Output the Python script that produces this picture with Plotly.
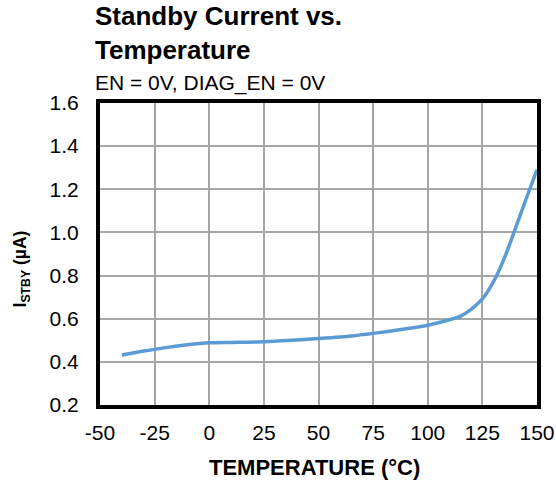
import plotly.graph_objects as go

# Standby current vs. junction temperature
temperature_c = [-40, -30, -20, -10, 0, 10, 25, 40, 50, 65, 75, 90, 100, 110, 115, 120, 125, 128, 132, 136, 140, 145, 150]
standby_ua = [0.432, 0.45, 0.466, 0.479, 0.488, 0.49, 0.493, 0.501, 0.508, 0.52, 0.532, 0.553, 0.57, 0.595, 0.612,
              0.645, 0.692, 0.735, 0.81, 0.905, 1.015, 1.155, 1.29]

x_ticks = [-50, -25, 0, 25, 50, 75, 100, 125, 150]
y_ticks = [0.2, 0.4, 0.6, 0.8, 1.0, 1.2, 1.4, 1.6]

FONT = "Arial, Liberation Sans, sans-serif"

fig = go.Figure(
    go.Scatter(
        x=temperature_c,
        y=standby_ua,
        mode="lines",
        line=dict(color="#5B9BD5", width=3.5, shape="spline", smoothing=0.7),
        showlegend=False,
    )
)

fig.update_layout(
    width=556,
    height=487,
    margin=dict(l=100, r=19, t=103, b=82),
    paper_bgcolor="white",
    plot_bgcolor="white",
    font=dict(family=FONT, color="black"),
)

axis_style = dict(
    showgrid=True,
    gridcolor="#A6A6A6",
    gridwidth=1.5,
    zeroline=False,
    showline=True,
    linecolor="black",
    linewidth=4,
    mirror=True,
    ticks="",
    automargin=False,
    tickfont=dict(size=21),
)

fig.update_xaxes(
    range=[-50, 150],
    tickvals=x_ticks,
    ticktext=[str(v) for v in x_ticks],
    ticklabelstandoff=6,
    **axis_style,
)

fig.update_yaxes(
    range=[0.2, 1.6],
    tickvals=y_ticks,
    ticktext=[f"{v:.1f}" for v in y_ticks],
    ticklabelstandoff=13,
    **axis_style,
)

# Axis titles
fig.add_annotation(
    text="<b>TEMPERATURE (°C)</b>",
    xref="paper", yref="paper", x=0.49, y=-0.16,
    xanchor="center", yanchor="top",
    showarrow=False, font=dict(size=22),
)
fig.add_annotation(
    text="<b>I<sub>STBY</sub> (µA)</b>",
    xref="paper", yref="paper", x=-0.18, y=0.45,
    xanchor="center", yanchor="middle", textangle=-90,
    showarrow=False, font=dict(size=17.5),
)

# Chart title and test condition
fig.add_annotation(
    text="<b>Standby Current vs.<br>Temperature</b>",
    xref="paper", yref="paper", x=-0.016, y=1.345,
    xanchor="left", yanchor="top", align="left",
    showarrow=False, font=dict(size=26),
)
fig.add_annotation(
    text="EN = 0V, DIAG_EN = 0V",
    xref="paper", yref="paper", x=-0.016, y=1.112,
    xanchor="left", yanchor="top", align="left",
    showarrow=False, font=dict(size=21),
)

fig.write_html("out.html")
